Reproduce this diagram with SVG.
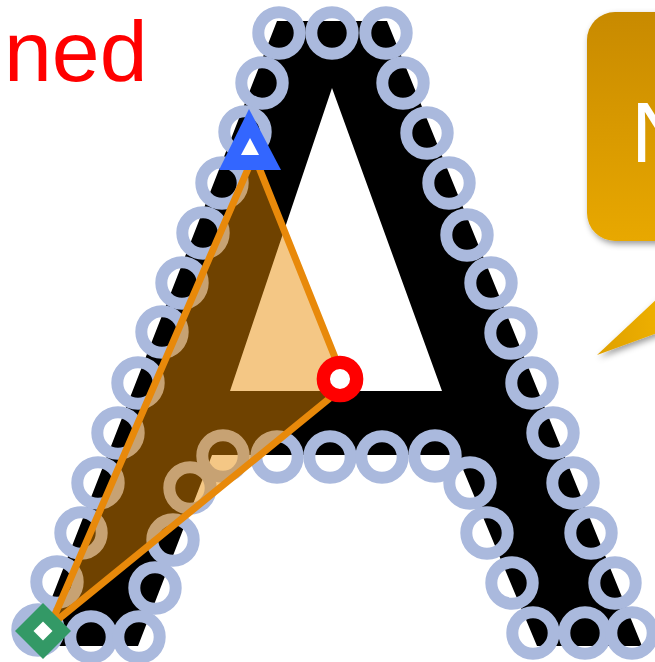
<svg xmlns="http://www.w3.org/2000/svg" width="655" height="662" viewBox="0 0 655 662">
<defs>
<style>
.ring{fill:none;stroke:#aab9dd;stroke-width:12}
.lbl{font-family:"Liberation Sans",Arial,sans-serif}
</style>
<linearGradient id="gold" x1="0" y1="0" x2="0" y2="1">
<stop offset="0" stop-color="#c88a00"/>
<stop offset="1" stop-color="#e8a800"/>
</linearGradient>
<linearGradient id="tailg" x1="0" y1="0" x2="1" y2="0">
<stop offset="0" stop-color="#dfa000"/>
<stop offset="1" stop-color="#eeb000"/>
</linearGradient>
<filter id="sh" x="-20%" y="-20%" width="140%" height="140%">
<feDropShadow dx="2" dy="3" stdDeviation="3" flood-color="#000" flood-opacity="0.4"/>
</filter>
</defs>
<rect width="655" height="662" fill="#fff"/>
<text class="lbl" x="4" y="81" font-size="86" fill="#ff0000">ned</text>
<g id="glyph">
<path d="M277,21 L387,21 L642,646 L537,646 L457,455 L212,455 L138,646 L33,646 Z M332,88 L230,391 L442,391 Z" fill="#000" fill-rule="evenodd"/>
</g>
<g id="points">
<circle class="ring" cx="279" cy="33" r="20.7"/>
<circle class="ring" cx="332" cy="33" r="20.7"/>
<circle class="ring" cx="386" cy="33" r="20.7"/>
<circle class="ring" cx="262" cy="83" r="20.7"/>
<circle class="ring" cx="245" cy="132" r="20.7"/>
<circle class="ring" cx="222" cy="183" r="20.7"/>
<circle class="ring" cx="203" cy="233" r="20.7"/>
<circle class="ring" cx="182" cy="283" r="20.7"/>
<circle class="ring" cx="162" cy="332" r="20.7"/>
<circle class="ring" cx="138" cy="383" r="20.7"/>
<circle class="ring" cx="118" cy="433" r="20.7"/>
<circle class="ring" cx="98" cy="483" r="20.7"/>
<circle class="ring" cx="81" cy="533" r="20.7"/>
<circle class="ring" cx="57" cy="582" r="20.7"/>
<circle class="ring" cx="38" cy="630" r="20.7"/>
<circle class="ring" cx="91" cy="637" r="20.7"/>
<circle class="ring" cx="139" cy="637" r="20.7"/>
<circle class="ring" cx="155" cy="588" r="20.7"/>
<circle class="ring" cx="173" cy="540" r="20.7"/>
<circle class="ring" cx="190" cy="488" r="20.7"/>
<circle class="ring" cx="223" cy="456" r="20.7"/>
<circle class="ring" cx="277" cy="457" r="20.7"/>
<circle class="ring" cx="330" cy="457" r="20.7"/>
<circle class="ring" cx="382" cy="457" r="20.7"/>
<circle class="ring" cx="435" cy="456" r="20.7"/>
<circle class="ring" cx="470" cy="483" r="20.7"/>
<circle class="ring" cx="487" cy="533" r="20.7"/>
<circle class="ring" cx="512" cy="583" r="20.7"/>
<circle class="ring" cx="533" cy="633" r="20.7"/>
<circle class="ring" cx="585" cy="633" r="20.7"/>
<circle class="ring" cx="632" cy="633" r="20.7"/>
<circle class="ring" cx="615" cy="583" r="20.7"/>
<circle class="ring" cx="591" cy="533" r="20.7"/>
<circle class="ring" cx="573" cy="483" r="20.7"/>
<circle class="ring" cx="553" cy="433" r="20.7"/>
<circle class="ring" cx="532" cy="383" r="20.7"/>
<circle class="ring" cx="511" cy="333" r="20.7"/>
<circle class="ring" cx="491" cy="283" r="20.7"/>
<circle class="ring" cx="467" cy="235" r="20.7"/>
<circle class="ring" cx="449" cy="183" r="20.7"/>
<circle class="ring" cx="427" cy="133" r="20.7"/>
<circle class="ring" cx="403" cy="83" r="20.7"/>
</g>
<g id="triangle">
<polygon points="254,155 346,385 50,626" fill="#e88a00" fill-opacity="0.48" stroke="#e8890a" stroke-width="7" stroke-linejoin="miter"/>
</g>
<g id="markers">
<polygon points="249,109 281,170 219,170" fill="#3366ff"/>
<polygon points="250,138 259,155 241,155" fill="#fff"/>
<circle cx="340" cy="379" r="16.7" fill="#fff" stroke="#ff0000" stroke-width="13.3"/>
<polygon points="43,603 71,631 43,659 15,631" fill="#339966"/>
<polygon points="43,621.5 52.5,631 43,640.5 33.5,631" fill="#fff"/>
</g>
<g id="callout" filter="url(#sh)">
<polygon points="597,355 660,296 660,332" fill="url(#tailg)"/>
<rect x="587" y="12" width="120" height="229" rx="28" fill="url(#gold)"/>
</g>
<text class="lbl" x="631" y="162" font-size="86" fill="#fff">N</text>
</svg>
